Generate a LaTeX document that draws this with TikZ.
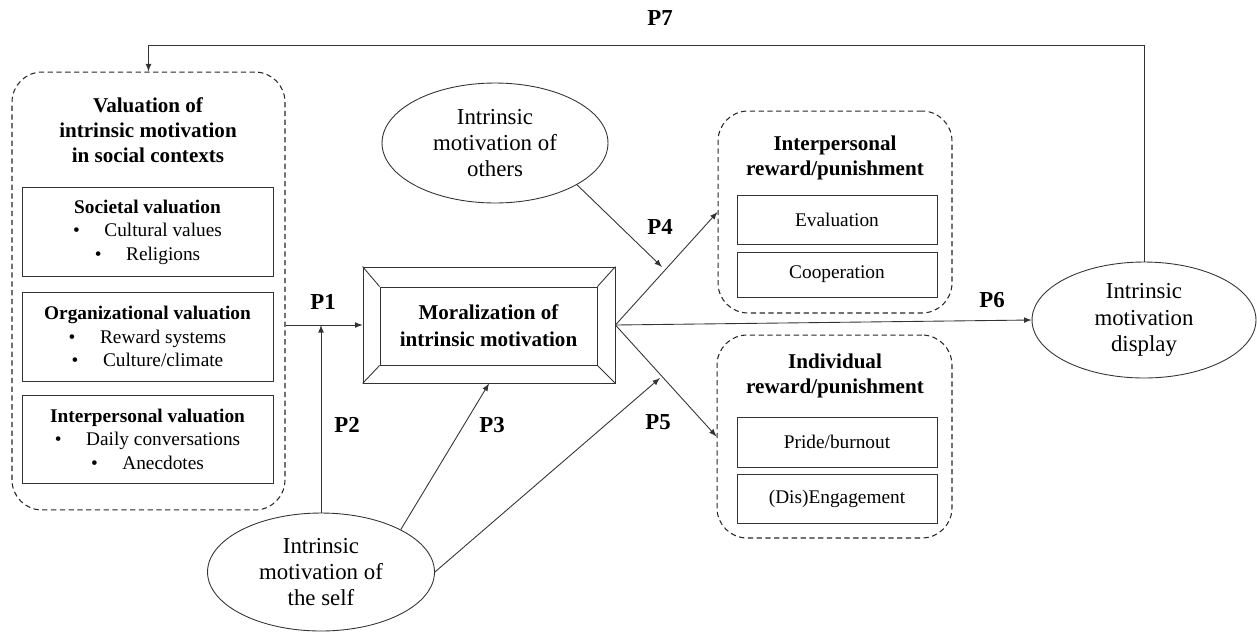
\documentclass[tikz,border=0pt]{standalone}
\usepackage{fontspec}
\setmainfont{Liberation Serif}
\usetikzlibrary{shapes.geometric}

\begin{document}
\begin{tikzpicture}[x=0.02cm,y=-0.02cm,line width=0.5pt,draw=black!80,
        dashbox/.style={draw=black!85,line width=0.6pt,dash pattern=on 3pt off 2pt,rounded corners=0.6cm},
        subbox/.style={draw,align=center,inner sep=0pt,minimum width=4cm,
            font=\fontsize{11}{13.4}\selectfont},
        oval/.style={draw,ellipse,align=center,inner sep=0pt,
            font=\fontsize{13}{15}\selectfont},
        titletext/.style={align=center,font=\fontsize{12}{14.2}\bfseries\selectfont},
        plabel/.style={font=\fontsize{13}{15}\bfseries\selectfont},
        arr/.style={-latex}]
        \useasboundingbox (0,0) rectangle (1257,633);

        % valuation in social contexts
        \node[dashbox,minimum width=5.46cm,minimum height=8.76cm] (valbox) at (148.5,291) {};
        \node[titletext] (valtitle) at (148,130) {Valuation of\\intrinsic motivation\\in social contexts};
        \node[subbox,minimum width=5.02cm,minimum height=1.78cm] (societal) at (147.5,232)
            {\textbf{Societal valuation}\\\textbullet\hspace{14pt}Cultural values\\\textbullet\hspace{14pt}Religions};
        \node[subbox,minimum width=5.02cm,minimum height=1.78cm] (organizational) at (147.5,336.5)
            {\textbf{Organizational valuation}\\\textbullet\hspace{14pt}Reward systems\\\textbullet\hspace{14pt}Culture/climate};
        \node[subbox,minimum width=5.02cm,minimum height=1.76cm] (interpersonal) at (147.5,439)
            {\textbf{Interpersonal valuation}\\\textbullet\hspace{14pt}Daily conversations\\\textbullet\hspace{14pt}Anecdotes};

        % moralization
        \node[draw,minimum width=5.04cm,minimum height=2.32cm] (moral) at (489,325) {};
        \node[draw,minimum width=4.34cm,minimum height=1.56cm,titletext,
            font=\fontsize{12}{15.4}\bfseries\selectfont] (moralin) at (488.5,326)
            {Moralization of\\intrinsic motivation};
        \draw (moral.north west) -- (moralin.north west);
        \draw (moral.north east) -- (moralin.north east);
        \draw (moral.south west) -- (moralin.south west);
        \draw (moral.south east) -- (moralin.south east);

        % ellipses
        \node[oval,minimum width=4.52cm,minimum height=2.4cm] (others) at (495,143) {Intrinsic\\motivation of\\others};
        \node[oval,minimum width=4.54cm,minimum height=2.36cm] (self) at (321,572) {Intrinsic\\motivation of\\the self};
        \node[oval,minimum width=4.48cm,minimum height=2.32cm] (display) at (1144,320) {Intrinsic\\motivation\\display};

        % reward/punishment
        \node[dashbox,minimum width=4.68cm,minimum height=4.04cm] (ipbox) at (835,212) {};
        \node[titletext] (iptitle) at (835,158) {Interpersonal\\reward/punishment};
        \node[subbox,minimum height=0.98cm] (evaluation) at (837,219.5) {Evaluation};
        \node[subbox,minimum height=0.9cm] (cooperation) at (837,274.5) {Cooperation};

        \node[dashbox,minimum width=4.7cm,minimum height=4.06cm] (indbox) at (834.5,436.5) {};
        \node[titletext] (indtitle) at (835,376) {Individual\\reward/punishment};
        \node[subbox,minimum height=1cm] (pride) at (837,442) {Pride/burnout};
        \node[subbox,minimum height=0.98cm] (engage) at (837,498.5) {(Dis)Engagement};

        % connectors
        \coordinate (p4tip) at (662,267);
        \coordinate (p5tip) at (660,378);
        \coordinate (p7turn) at (1144,45);
        \draw[arr] (moral.west -| valbox.east) -- (moral.west);
        \draw[arr] (self.north) -- (self.north |- moral.west);
        \draw[arr] (self.28) -- (moral.south);
        \draw[arr] (others.-27) -- (p4tip);
        \draw[arr] (self.east) -- (p5tip);
        \draw[arr] (moral.east) -- (ipbox.west);
        \draw[arr] (moral.east) -- (indbox.west);
        \draw[arr] (moral.east) -- (display.west);
        \draw[arr] (display.north) -- (p7turn) -| (valbox.north);

        % labels
        \node[plabel] (p1) at (323,302) {P1};
        \node[plabel] (p2) at (347,425) {P2};
        \node[plabel] (p3) at (492,425) {P3};
        \node[plabel] (p4) at (660,227) {P4};
        \node[plabel] (p5) at (658,422) {P5};
        \node[plabel] (p6) at (992,300) {P6};
        \node[plabel] (p7) at (660,18) {P7};
\end{tikzpicture}
\end{document}
